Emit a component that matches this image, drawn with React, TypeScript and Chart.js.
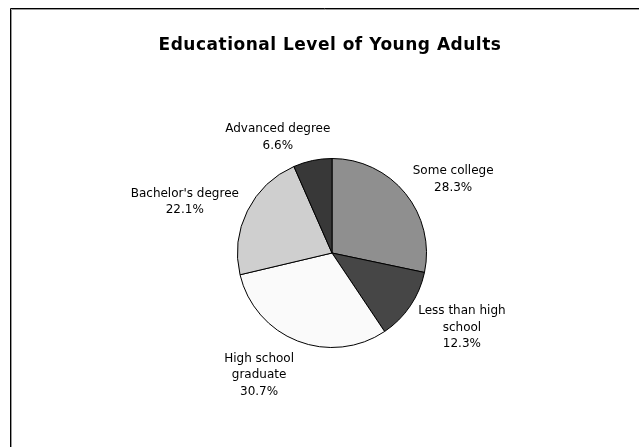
import { useEffect, useRef } from "react";
import { Chart, registerables } from "chart.js";

Chart.register(...registerables);

const TITLE = "Educational Level of Young Adults";
const categories: string[][] = [
  ["Some college"],
  ["Less than high", "school"],
  ["High school", "graduate"],
  ["Bachelor's degree"],
  ["Advanced degree"],
];
const shares = [28.3, 12.3, 30.7, 22.1, 6.6];
const sliceColors = ["#8f8f8f", "#464646", "#fafafa", "#cfcfcf", "#383838"];

const WIDTH = 639;
const HEIGHT = 447;
const LABEL_FONT = "12px 'DejaVu Sans', sans-serif";
const TITLE_FONT = "bold 17px 'DejaVu Sans', sans-serif";
const LINE_H = 16.5;

// Window-style frame: dark edge with a grey inner bevel, open to the right and bottom.
const framePlugin = {
  id: "frame",
  beforeDraw(chart: Chart) {
    const { ctx, width, height } = chart;
    ctx.save();
    ctx.fillStyle = "#ffffff";
    ctx.fillRect(0, 0, width, height);
    ctx.lineWidth = 1;
    ctx.strokeStyle = "#000000";
    ctx.beginPath();
    ctx.moveTo(10.5, height);
    ctx.lineTo(10.5, 8.5);
    ctx.lineTo(width, 8.5);
    ctx.stroke();
    ctx.strokeStyle = "#9a9a9a";
    ctx.beginPath();
    ctx.moveTo(11.5, height);
    ctx.lineTo(11.5, 9.5);
    ctx.lineTo(width, 9.5);
    ctx.stroke();
    ctx.restore();
  },
};

const titlePlugin = {
  id: "chartTitle",
  afterDraw(chart: Chart) {
    const { ctx, width } = chart;
    ctx.save();
    ctx.font = TITLE_FONT;
    (ctx as any).letterSpacing = "0.5px";
    ctx.fillStyle = "#000000";
    ctx.textAlign = "center";
    ctx.textBaseline = "middle";
    ctx.fillText(TITLE, (10 + width + 11) / 2, 46);
    ctx.restore();
  },
};

// Category name and share placed just outside each slice. Labels to the side of the pie
// are aligned against it; labels near the top or bottom drift towards being centred.
const sliceLabels = {
  id: "sliceLabels",
  afterDatasetsDraw(chart: Chart) {
    const { ctx } = chart;
    const meta = chart.getDatasetMeta(0);
    ctx.save();
    ctx.font = LABEL_FONT;
    ctx.fillStyle = "#000000";
    ctx.textAlign = "center";
    ctx.textBaseline = "middle";
    meta.data.forEach((el: any, i: number) => {
      const { x, y, startAngle, endAngle, outerRadius } = el.getProps(
        ["x", "y", "startAngle", "endAngle", "outerRadius"],
        true
      );
      const mid = (startAngle + endAngle) / 2;
      const r = outerRadius + 9.5;
      const dx = Math.cos(mid);
      const dy = Math.sin(mid);
      const ax = x + dx * r;
      const ay = y + dy * r;
      const lines = [...categories[i], `${shares[i]}%`];
      const w = Math.max(...lines.map((l) => ctx.measureText(l).width));
      const h = lines.length * LINE_H;
      const side = Math.min(1, Math.abs(dx) / 0.33);
      const cx = ax + Math.sign(dx) * side * (w / 2);
      const cy = ay + (dy * h) / 2 + 2.5;
      lines.forEach((l, k) => {
        ctx.fillText(l, cx, cy - h / 2 + LINE_H * (k + 0.5));
      });
    });
    ctx.restore();
  },
};

export default function App() {
  const canvasRef = useRef<HTMLCanvasElement | null>(null);

  useEffect(() => {
    const canvas = canvasRef.current;
    if (!canvas) return;
    const chart = new Chart(canvas, {
      type: "pie",
      data: {
        labels: categories.map((c) => c.join(" ")),
        datasets: [
          {
            data: shares,
            backgroundColor: sliceColors,
            borderColor: "#000000",
            borderWidth: 1,
            radius: 94.5,
          },
        ],
      },
      options: {
        responsive: false,
        animation: false,
        events: [],
        layout: { padding: { left: 232, right: 207, top: 153, bottom: 94 } },
        plugins: {
          legend: { display: false },
          tooltip: { enabled: false },
          title: { display: false },
        },
      },
      plugins: [framePlugin, sliceLabels, titlePlugin],
    });
    return () => chart.destroy();
  }, []);

  return (
    <div style={{ position: "absolute", left: 0, top: 0, width: WIDTH, height: HEIGHT }}>
      <canvas ref={canvasRef} width={WIDTH} height={HEIGHT} style={{ display: "block" }} />
    </div>
  );
}
